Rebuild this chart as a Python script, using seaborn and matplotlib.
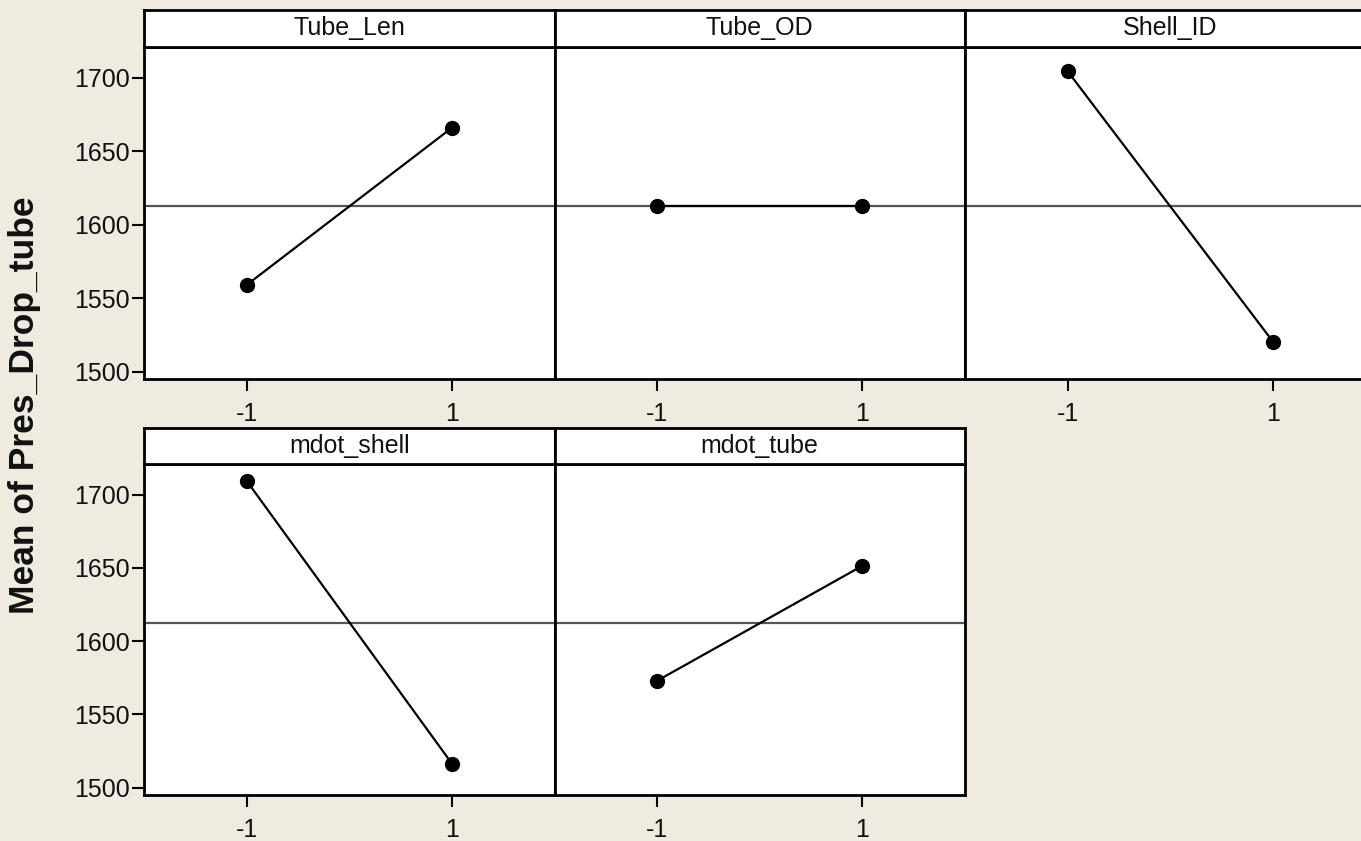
import numpy as np
import pandas as pd
import matplotlib
matplotlib.use("Agg")
import matplotlib.pyplot as plt
from matplotlib import font_manager
import seaborn as sns

# Main effects data: mean response at the low/high level of each factor
factors = ["Tube_Len", "Tube_OD", "Shell_ID", "mdot_shell", "mdot_tube"]
levels = [-1, 1]
tube_len = [1559.0, 1666.0]
tube_od = [1613.0, 1613.0]
shell_id = [1704.5, 1520.5]
mdot_shell = [1709.5, 1516.5]
mdot_tube = [1573.0, 1651.5]
x_tick_labels = ["-1", "1"]
y_ticks = [1500, 1550, 1600, 1650, 1700]
y_label = "Mean of Pres_Drop_tube"

series = [tube_len, tube_od, shell_id, mdot_shell, mdot_tube]
df = pd.DataFrame({
    "factor": np.repeat(factors, len(levels)),
    "level": levels * len(factors),
    "mean": np.concatenate(series),
})
grand_mean = df["mean"].mean()

sns.set_style("white")
names = {f.name for f in font_manager.fontManager.ttflist}
narrow = "Liberation Sans Narrow" if "Liberation Sans Narrow" in names else "Liberation Sans"
plt.rcParams["font.family"] = [narrow, "DejaVu Sans"]

W, H = 1361, 841
bg = "#EFEBE0"
fig = plt.figure(figsize=(W / 100, H / 100), dpi=100, facecolor=bg)

col_left = [144, 554.5, 965]
col_w = 410.5
# (plot top, plot bottom, strip top) in pixels for each row
rows = [(47, 379, 10), (464, 795, 428)]

for i, name in enumerate(factors):
    r, c = divmod(i, 3)
    top, bottom, strip_top = rows[r]
    x0 = col_left[c] / W
    ax = fig.add_axes([x0, 1 - bottom / H, col_w / W, (bottom - top) / H])
    ax.set_facecolor("white")
    sub = df[df["factor"] == name]
    ax.axhline(grand_mean, color="#555555", lw=1.6, zorder=1)
    sns.lineplot(data=sub, x="level", y="mean", ax=ax, color="black",
                 lw=1.6, marker="o", markersize=11, markeredgewidth=0,
                 zorder=3)
    ax.set_xlim(-2, 2)
    ax.set_ylim(1495, 1721)
    ax.set_xticks(levels)
    ax.set_xticklabels(x_tick_labels)
    ax.set_yticks(y_ticks)
    ax.set_xlabel("")
    ax.set_ylabel("")
    for s in ax.spines.values():
        s.set_color("black")
        s.set_linewidth(2.0)
    ax.tick_params(axis="x", direction="out", length=8.5, width=1.5,
                   color="black", pad=8, labelsize=18, bottom=True)
    ax.tick_params(axis="y", direction="out", length=8.5, width=1.5,
                   color="black", pad=1.5, labelsize=18, left=(c == 0),
                   labelleft=(c == 0))
    for lab in ax.get_xticklabels() + ax.get_yticklabels():
        lab.set_color("#111111")

    # facet title strip
    sax = fig.add_axes([x0, 1 - top / H, col_w / W, (top - strip_top) / H])
    sax.set_facecolor("white")
    sax.set_xticks([])
    sax.set_yticks([])
    for s in sax.spines.values():
        s.set_color("black")
        s.set_linewidth(2.0)
    sax.text(0.5, 0.5, name, ha="center", va="center", fontsize=18,
             color="#111111", transform=sax.transAxes)

fig.text(25 / W, 1 - 405 / H, y_label, rotation=90, ha="center", va="center",
         fontsize=25.5, fontweight="bold", color="#111111",
         family=["Liberation Sans", "DejaVu Sans"])

fig.savefig("out.png", dpi=100, facecolor=bg)
